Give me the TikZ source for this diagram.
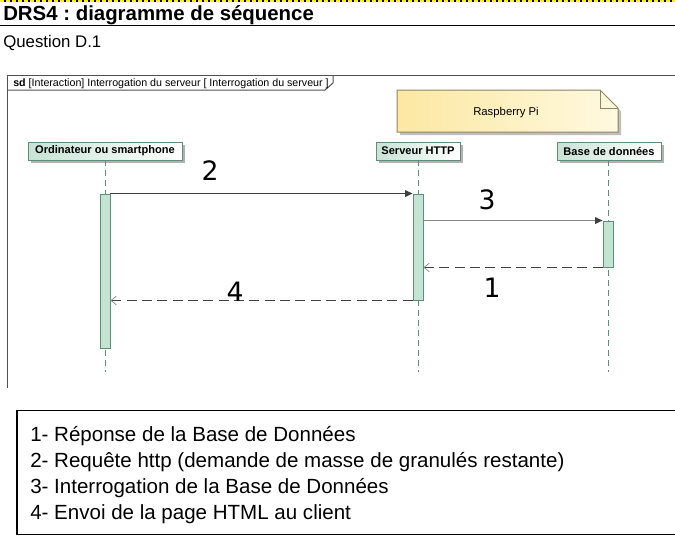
\documentclass[tikz,border=0pt]{standalone}
\usepackage{fontspec}
\setmainfont{Liberation Sans}
\newfontfamily\digitfont{DejaVu Sans}
\usetikzlibrary{arrows.meta,calc,shadows}
\definecolor{lifec}{HTML}{5F8E78}
\definecolor{headL}{HTML}{C8E3D5}
\definecolor{barfill}{HTML}{C3E3D3}
\definecolor{framec}{HTML}{505050}
\definecolor{notec}{HTML}{8F8660}
\definecolor{noteL}{HTML}{FCE8A2}
\definecolor{noteR}{HTML}{FFF9E0}
\definecolor{msgdark}{HTML}{404040}
\definecolor{msggray}{HTML}{858585}
\frenchspacing
\begin{document}
\begin{tikzpicture}[x=0.75pt,y=-0.75pt,
  headbox/.style={draw=lifec, line width=0.7pt, left color=headL, right color=white,
    minimum height=13.5pt, inner sep=0pt, font=\fontsize{8.3}{9}\selectfont\bfseries,
    drop shadow={shadow xshift=2.2pt, shadow yshift=-2.2pt, fill=black!30, opacity=1}},
  actbar/.style={draw=lifec, line width=0.7pt, fill=barfill, minimum width=7.5pt, inner sep=0pt},
  lifeline/.style={draw=lifec, line width=0.6pt, dash pattern=on 4.5pt off 3pt},
  callmsg/.style={line width=0.7pt, -{Triangle[length=5.5pt,width=5pt]}},
  retmsg/.style={draw=msgdark, line width=0.7pt, dash pattern=on 7.5pt off 4pt,
    -{Straight Barb[length=4pt,width=6.5pt,color=msggray,line width=0.5pt]}},
  numlbl/.style={font=\digitfont\fontsize{20}{22}\selectfont, inner sep=0pt},
  legendtxt/.style={anchor=base west, inner sep=0pt, font=\fontsize{15.4}{17}\selectfont}
]
\useasboundingbox (0,0) rectangle (675,537);
% top banner
\draw[line width=1.5pt, black] (0,1.2) -- (675,1.2);
\draw[line width=1.5pt, yellow, dash pattern=on 3pt off 1.5pt] (0,1.2) -- (675,1.2);
\node[anchor=base west, inner sep=0pt, font=\fontsize{15.3}{17}\selectfont\bfseries] (title) at (3,20) {DRS4 : diagramme de séquence};
\draw[line width=1.1pt, black] (0,25.5) -- (675,25.5);
\node[anchor=base west, inner sep=0pt, font=\fontsize{12.6}{14}\selectfont] (question) at (3,47) {Question D.1};

% frame
\draw[framec, line width=0.75pt] (7,388) -- (7,75) -- (680,75);
\draw[framec, line width=0.75pt] (7,90) -- (325,90) -- (333,83) -- (333,75);
\node[anchor=base west, inner sep=0pt, font=\fontsize{8}{9}\selectfont] (sdlabel) at (13,86.5) {\textbf{sd} [Interaction] Interrogation du serveur [ Interrogation du serveur ]};

% note
\fill[black!25] (400,93) -- (603,93) -- (621,111) -- (621,135) -- (400,135) -- cycle;
\path[draw=notec, line width=0.75pt, left color=noteL, right color=noteR] (397,90) -- (600,90) -- (618,108) -- (618,132) -- (397,132) -- cycle;
\draw[notec, line width=0.75pt] (600,90) -- (600,108) -- (618,108);
\node[inner sep=0pt, font=\fontsize{8.5}{10}\selectfont] (rpi) at (506,113) {Raspberry Pi};

% lifeline heads
\node[headbox, minimum width=115.5pt] (client) at (105,151) {Ordinateur ou smartphone};
\node[headbox, minimum width=63pt] (server) at (418,151) {Serveur HTTP};
\node[headbox, minimum width=78pt] (db) at (609,151) {Base de données};

% lifelines
\coordinate (cend) at (105,372);
\coordinate (send) at (418,372);
\coordinate (dend) at (608,372);
\draw[lifeline] (client.south -| cend) -- (cend);
\draw[lifeline] (server.south -| send) -- (send);
\draw[lifeline] (db.south -| dend) -- (dend);

% activation bars
\node[actbar, minimum height=115.5pt] (cbar) at (105,271) {};
\node[actbar, minimum height=79.5pt] (sbar) at (418,247) {};
\node[actbar, minimum height=34.5pt] (dbar) at (608,244) {};

% messages
\draw[callmsg, draw=msgdark, fill=msgdark] (cbar.north east) -- (sbar.north west);
\draw[callmsg, draw=msggray, -{Triangle[length=5.5pt,width=5pt,color=msgdark]}] (sbar.east |- dbar.north) -- (dbar.north west);
\draw[retmsg] (dbar.south west) -- (sbar.east |- dbar.south);
\draw[retmsg] (sbar.south west) -- (cbar.east |- sbar.south);

% message numbers
\node[numlbl] (n2) at (210,171) {2};
\node[numlbl] (n3) at (487,200) {3};
\node[numlbl] (n1) at (492,288) {1};
\node[numlbl] (n4) at (235,292) {4};

% legend
\draw[black, line width=1pt] (680,410.5) -- (17,410.5) -- (17,534.5) -- (680,534.5);
\node[legendtxt] (l1) at (30,441) {1- Réponse de la Base de Données};
\node[legendtxt] (l2) at (30,467) {2- Requête http (demande de masse de granulés restante)};
\node[legendtxt] (l3) at (30,493) {3- Interrogation de la Base de Données};
\node[legendtxt] (l4) at (30,519) {4- Envoi de la page HTML au client};
\end{tikzpicture}
\end{document}
